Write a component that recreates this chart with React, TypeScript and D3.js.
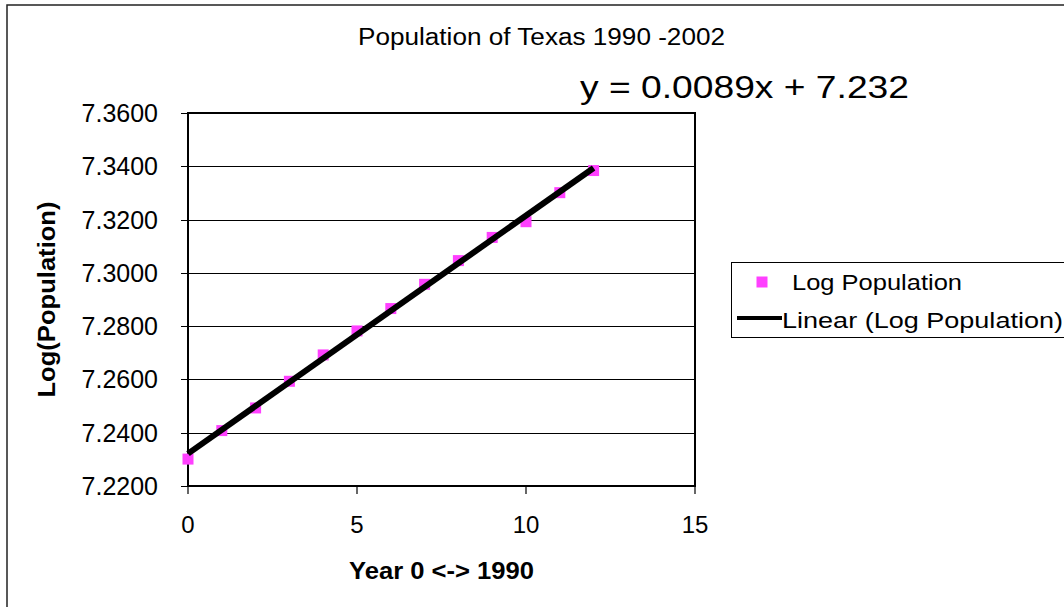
import React from "react";
import * as d3 from "d3";

const years = [0, 1, 2, 3, 4, 5, 6, 7, 8, 9, 10, 11, 12];
const logPopulation = [7.2301, 7.2408, 7.2493, 7.2593, 7.2692, 7.2782, 7.2866, 7.2957, 7.3046, 7.3133, 7.3192, 7.3301, 7.3384];
const yTicks = [7.22, 7.24, 7.26, 7.28, 7.3, 7.32, 7.34, 7.36];
const xTicks = [0, 5, 10, 15];
const title = "Population of Texas 1990 -2002";
const equation = "y = 0.0089x + 7.232";
const xTitle = "Year 0 <-> 1990";
const yTitle = "Log(Population)";
const legendLabels = ["Log Population", "Linear (Log Population)"];

const W = 1064;
const H = 607;
const plot = { left: 188, right: 695, top: 113, bottom: 486 };
const FONT = "'Liberation Sans', Arial, Helvetica, sans-serif";
const PINK = "#ff40ff";

export default function App() {
  const x = d3.scaleLinear().domain([0, 15]).range([plot.left, plot.right]);
  const y = d3.scaleLinear().domain([7.22, 7.36]).range([plot.bottom, plot.top]);

  const mx = d3.mean(years)!;
  const my = d3.mean(logPopulation)!;
  const sxy = d3.sum(years, (v, i) => (v - mx) * (logPopulation[i] - my));
  const sxx = d3.sum(years, (v) => (v - mx) * (v - mx));
  const slope = sxy / sxx;
  const intercept = my - slope * mx;
  const x0 = d3.min(years)!;
  const x1 = d3.max(years)!;
  const trend = d3.line<number>().x((d) => x(d)).y((d) => y(intercept + slope * d))([x0, x1]) || "";

  const fmt = d3.format(".4f");
  const ms = 11;

  return (
    <svg width={W} height={H} style={{ position: "absolute", left: 0, top: 0, background: "#fff" }} fontFamily={FONT}>
      <rect x={0} y={0} width={W} height={H} fill="#fff" />
      <rect x={7} y={5} width={1200} height={800} fill="none" stroke="#222" strokeWidth={1.5} />

      <text x={541.5} y={45} textAnchor="middle" fontSize={23} textLength={367} lengthAdjust="spacingAndGlyphs">{title}</text>
      <text x={580} y={98} fontSize={32} textLength={329} lengthAdjust="spacingAndGlyphs">{equation}</text>

      {yTicks.map((t) => (
        <g key={"y" + t}>
          <line x1={181} x2={plot.right} y1={Math.round(y(t)) + 0.5} y2={Math.round(y(t)) + 0.5} stroke="#000" strokeWidth={1} />
          <text x={158} y={y(t) + 9} textAnchor="end" fontSize={25}>{fmt(t)}</text>
        </g>
      ))}
      {xTicks.map((t) => (
        <g key={"x" + t}>
          <line x1={x(t)} x2={x(t)} y1={plot.bottom} y2={plot.bottom + 8} stroke="#000" strokeWidth={1.2} />
          <text x={x(t)} y={533} textAnchor="middle" fontSize={24}>{t}</text>
        </g>
      ))}
      <rect x={plot.left} y={plot.top} width={plot.right - plot.left} height={plot.bottom - plot.top} fill="none" stroke="#000" strokeWidth={2} />

      {years.map((v, i) => (
        <rect key={"p" + v} x={x(v) - ms / 2} y={y(logPopulation[i]) - ms / 2} width={ms} height={ms} fill={PINK} />
      ))}
      <path d={trend} stroke="#000" strokeWidth={6} fill="none" />

      <text x={(plot.left + plot.right) / 2} y={579} textAnchor="middle" fontSize={24} fontWeight="bold" textLength={185} lengthAdjust="spacingAndGlyphs">{xTitle}</text>
      <text transform={`translate(55,${(plot.top + plot.bottom) / 2}) rotate(-90)`} textAnchor="middle" fontSize={23} fontWeight="bold" textLength={196} lengthAdjust="spacingAndGlyphs">{yTitle}</text>

      <rect x={731.5} y={262.5} width={400} height={75} fill="#fff" stroke="#000" strokeWidth={1} />
      <rect x={762 - ms / 2} y={282 - ms / 2} width={ms} height={ms} fill={PINK} />
      <text x={792} y={290} fontSize={22} textLength={170} lengthAdjust="spacingAndGlyphs">{legendLabels[0]}</text>
      <line x1={737} x2={782} y1={318} y2={318} stroke="#000" strokeWidth={4} />
      <text x={782} y={328} fontSize={22} textLength={281} lengthAdjust="spacingAndGlyphs">{legendLabels[1]}</text>
    </svg>
  );
}
